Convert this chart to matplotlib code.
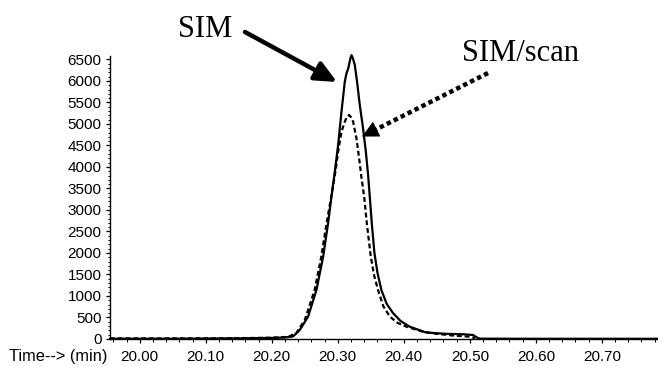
import matplotlib
matplotlib.use("Agg")
import matplotlib.pyplot as plt
import numpy as np

# ---------------- data ----------------
sim_time = [19.955, 20.00, 20.05, 20.10, 20.15, 20.20, 20.22, 20.2323, 20.2424, 20.255,
            20.2677, 20.2778, 20.2853, 20.2914, 20.2955, 20.3005, 20.3056, 20.3106,
            20.3132, 20.316, 20.319, 20.3208, 20.323, 20.3258, 20.3292, 20.3333,
            20.3383, 20.3425, 20.346, 20.3485, 20.3515, 20.3555, 20.360, 20.366,
            20.374, 20.384, 20.395, 20.409, 20.434, 20.465, 20.490, 20.505, 20.510,
            20.515, 20.60, 20.70, 20.785]
sim_abund = [5, 5, 5, 10, 15, 25, 35, 60, 209, 519,
             1140, 1913, 2690, 3425, 3889, 4510, 5285, 5982,
             6177, 6300, 6520, 6600, 6520, 6370, 5982, 5440,
             4899, 4355, 3800, 3300, 2690, 2000, 1550, 1140,
             820, 597, 420, 286, 150, 120, 110, 93, 40,
             8, 5, 5, 5]

scan_time = [19.955, 20.00, 20.05, 20.10, 20.15, 20.20, 20.225, 20.237, 20.25, 20.265,
             20.275, 20.283, 20.290, 20.2955, 20.3005, 20.3056, 20.3106, 20.314,
             20.317, 20.320, 20.3232, 20.3283, 20.3323, 20.336, 20.340, 20.344,
             20.350, 20.355, 20.361, 20.369, 20.379, 20.390, 20.404, 20.429, 20.45,
             20.475, 20.50, 20.508]
scan_abund = [15, 15, 15, 15, 20, 30, 50, 132, 442, 1140,
              1913, 2690, 3300, 3800, 4355, 4820, 5052, 5170,
              5208, 5160, 5052, 4666, 4201, 3736, 3300, 2690,
              1913, 1480, 1140, 760, 519, 380, 286, 170, 120,
              80, 54, 20]

x_ticks = [20.00, 20.10, 20.20, 20.30, 20.40, 20.50, 20.60, 20.70]
y_ticks = list(range(0, 6501, 500))

# ---------------- figure ----------------
W, H = 658, 366
fig = plt.figure(figsize=(W / 100, H / 100), dpi=100)
plt.rcParams['font.family'] = ['Liberation Sans', 'DejaVu Sans']

def fp(px, py):
    """image pixel -> figure fraction"""
    return (px / W, 1 - py / H)

ax = fig.add_axes([110 / W, 27 / H, 548 / W, (339 - 56) / H])
ax.set_xlim(19.955, 20.785)
ax.set_ylim(0, 6580)

ax.plot(sim_time, sim_abund, color='black', lw=1.6, clip_on=False, zorder=3)
ax.plot(scan_time, scan_abund, color='black', lw=1.6, ls=(0, (2.2, 1.3)),
        clip_on=False, zorder=3)

for s in ['top', 'right']:
    ax.spines[s].set_visible(False)
for s in ['left', 'bottom']:
    ax.spines[s].set_linewidth(1.0)

ax.set_xticks(x_ticks)
ax.set_xticklabels([f"{v:.2f}" for v in x_ticks])
ax.set_xticks(np.arange(19.96, 20.785, 0.02), minor=True)
ax.set_yticks(y_ticks)
ax.set_yticklabels([str(v) for v in y_ticks])
ax.set_yticks(range(0, 6580, 100), minor=True)

ax.tick_params(axis='both', which='major', length=3, width=0.9, labelsize=11,
               direction='out')
ax.tick_params(axis='x', which='major', pad=5)
ax.tick_params(axis='y', which='major', pad=3)
ax.tick_params(axis='both', which='minor', length=1.8, width=0.7, direction='out')

fig.text(107 / W, 1 - 357 / H, "Time--> (min)", ha='right', va='center',
         fontsize=11.8)

# ---------------- annotations ----------------
serif = ['Liberation Serif', 'DejaVu Serif']
fig.text(178 / W, 1 - 37 / H, "SIM", fontsize=22, family=serif,
         ha='left', va='baseline')
fig.text(462 / W, 1 - 61 / H, "SIM/scan", fontsize=22, family=serif,
         ha='left', va='baseline')

# SIM arrow (solid)
ax.annotate('', xy=fp(337, 82), xytext=fp(245, 32),
            xycoords='figure fraction', textcoords='figure fraction',
            arrowprops=dict(arrowstyle='-|>,head_length=1.3,head_width=0.6',
                            lw=3.2, color='black', shrinkA=0, shrinkB=0,
                            mutation_scale=10),
            annotation_clip=False)

# SIM/scan arrow (dotted shaft + solid head)
tip = np.array([362.0, 136.5])
tail = np.array([488.0, 73.0])
u = (tip - tail) / np.linalg.norm(tip - tail)
base = tip - 14 * u
fig.add_artist(plt.Line2D([tail[0] / W, base[0] / W], [1 - tail[1] / H, 1 - base[1] / H],
                          transform=fig.transFigure, color='black', lw=3.2,
                          ls=(0, (1.0, 0.75)), dash_capstyle='butt'))
ax.annotate('', xy=fp(*tip), xytext=fp(*(tip - 16 * u)),
            xycoords='figure fraction', textcoords='figure fraction',
            arrowprops=dict(arrowstyle='-|>,head_length=1.1,head_width=0.55',
                            lw=0.5, color='black', shrinkA=0, shrinkB=0,
                            mutation_scale=10),
            annotation_clip=False)

fig.savefig("out.png", dpi=100)
